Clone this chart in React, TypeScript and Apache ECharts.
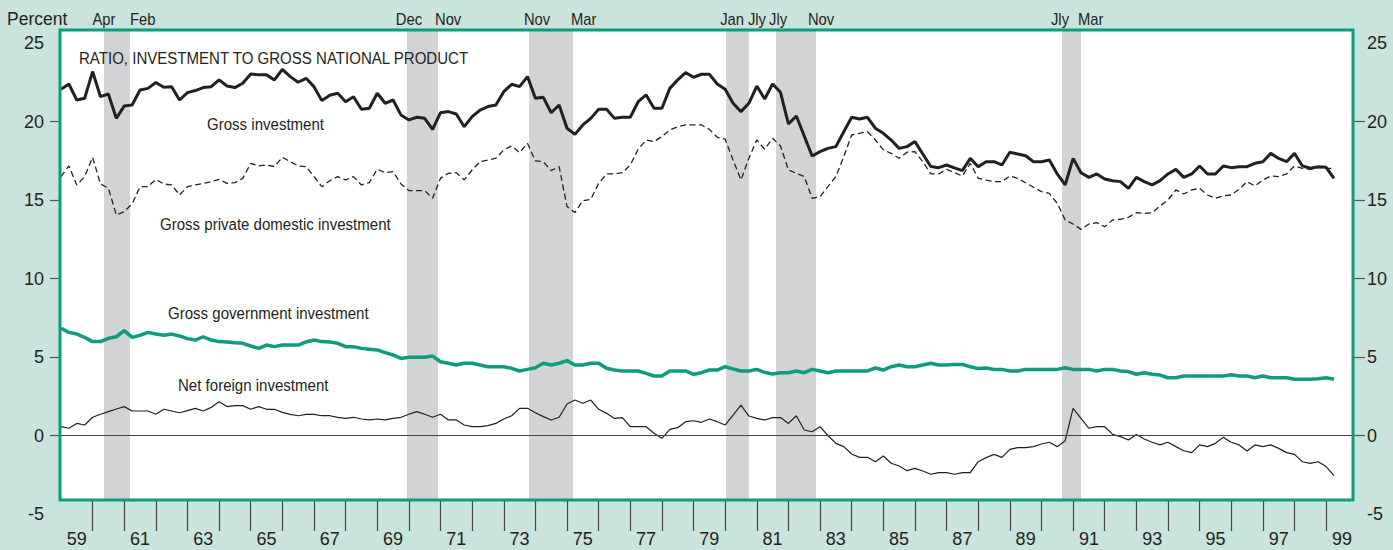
import React, { useEffect, useRef } from "react";
import * as echarts from "echarts";

// Quarterly observations, first point = 1959 Q1
const START_YEAR = 1959;

const grossInvestment = [
  22.05, 22.39, 21.37, 21.48, 23.18, 21.58, 21.75, 20.2, 20.99, 21.05,
  22.01, 22.11, 22.48, 22.18, 22.22, 21.37, 21.84, 21.97, 22.16, 22.22,
  22.65, 22.26, 22.16, 22.44, 23.03, 22.97, 22.97, 22.65, 23.32, 22.86,
  22.5, 22.75, 22.22, 21.33, 21.67, 21.8, 21.26, 21.58, 20.78, 20.84,
  21.8, 21.16, 21.37, 20.42, 20.1, 20.27, 20.2, 19.5, 20.56, 20.63,
  20.48, 19.67, 20.31, 20.73, 20.95, 21.05, 21.9, 22.37,
  22.22, 22.86, 21.48, 21.54, 20.56, 21.05, 19.57, 19.18, 19.78, 20.2,
  20.78, 20.78, 20.2, 20.27, 20.27, 21.26, 21.69, 20.84, 20.84, 22.11,
  22.65, 23.11, 22.82, 23.01, 23.01, 22.39, 22.05, 21.16, 20.63, 21.16,
  22.26, 21.43, 22.39, 21.86, 19.84, 20.35, 19.08, 17.8, 18.08, 18.29,
  18.4, 19.35, 20.27, 20.16, 20.27, 19.57, 19.25, 18.82, 18.29, 18.4,
  18.72, 17.93, 17.13, 17.06, 17.23,
  17.05, 16.87, 17.65, 17.12, 17.44, 17.44, 17.23, 18.04, 17.93, 17.82,
  17.44, 17.44, 17.55, 16.66, 15.96, 17.65, 16.74, 16.44, 16.66, 16.34,
  16.23, 16.17, 15.74, 16.44, 16.17, 15.96, 16.23, 16.66, 16.95, 16.44,
  16.66, 17.17, 16.66, 16.66, 17.17, 17.06, 17.12, 17.12, 17.34, 17.44,
  17.97, 17.65, 17.44, 17.97, 17.17, 17.02, 17.12, 17.08, 16.38,
];

const grossPrivateDomestic = [
  16.49, 17.17, 15.96, 16.49, 17.72, 16.02, 15.75, 14.05, 14.26, 14.75,
  15.85, 15.85, 16.32, 16.02, 15.96, 15.32, 15.85, 15.96, 16.06, 16.17,
  16.32, 16.06, 16.11, 16.38, 17.34, 17.17, 17.23, 17.13, 17.72, 17.44,
  17.17, 17.13, 16.49, 15.85, 16.23, 16.49, 16.28, 16.49, 15.96, 16.11,
  16.96, 16.74, 16.81, 16.02, 15.6, 15.6, 15.6, 15.11, 16.38, 16.7,
  16.74, 16.28, 16.91, 17.44, 17.55, 17.66, 18.19, 18.44,
  18.02, 18.61, 17.49, 17.44, 16.87, 17.13, 14.58, 14.2, 14.96, 15.04,
  16.06, 16.66, 16.66, 16.74, 17.23, 18.23, 18.82, 18.72, 19.04, 19.46,
  19.67, 19.78, 19.78, 19.78, 19.5, 19.0, 18.87, 17.55, 16.28, 17.66,
  18.82, 18.23, 18.93, 18.44, 16.91, 16.7, 16.49, 15.11, 15.21, 15.85,
  16.49, 17.76, 19.14, 19.25, 19.35, 18.82, 18.19, 17.97, 17.66, 18.04,
  18.08, 17.44, 16.66, 16.66, 16.96,
  16.74, 16.53, 17.34, 16.38, 16.27, 16.17, 16.17, 16.53, 16.38, 16.1,
  15.81, 15.53, 15.42, 14.79, 13.73, 13.47, 13.13, 13.47, 13.56, 13.3,
  13.73, 13.77, 13.9, 14.19, 14.15, 14.19, 14.62, 15.0, 15.64, 15.38,
  15.64, 15.74, 15.32, 15.11, 15.26, 15.32, 15.68, 16.17, 15.89, 16.27,
  16.53, 16.49, 16.66, 17.17, 17.02, 16.95, 17.08, 17.02, 17.02,
];

const grossGovernment = [
  6.83, 6.57, 6.46, 6.25, 5.98, 5.98, 6.19, 6.29, 6.68, 6.25,
  6.38, 6.57, 6.46, 6.38, 6.46, 6.34, 6.17, 6.08, 6.29, 6.08,
  5.98, 5.96, 5.91, 5.87, 5.7, 5.55, 5.76, 5.66, 5.76, 5.76,
  5.76, 5.96, 6.08, 5.98, 5.96, 5.87, 5.66, 5.66, 5.55, 5.49,
  5.45, 5.28, 5.13, 4.91, 4.98, 4.98, 4.98, 5.06, 4.7, 4.6,
  4.49, 4.6, 4.6, 4.49, 4.38, 4.38, 4.38, 4.28,
  4.11, 4.21, 4.32, 4.6, 4.49, 4.6, 4.77, 4.49, 4.49, 4.6,
  4.6, 4.28, 4.17, 4.11, 4.11, 4.11, 3.96, 3.79, 3.79, 4.11,
  4.11, 4.11, 3.9, 4.0, 4.17, 4.17, 4.38, 4.24, 4.11, 4.11,
  4.21, 4.02, 3.92, 4.0, 4.0, 4.11, 4.0, 4.21, 4.11, 4.0,
  4.11, 4.11, 4.11, 4.11, 4.11, 4.3, 4.17, 4.38, 4.49, 4.38,
  4.38, 4.49, 4.6, 4.49, 4.49,
  4.53, 4.53, 4.38, 4.26, 4.3, 4.21, 4.21, 4.11, 4.11, 4.21,
  4.21, 4.21, 4.21, 4.21, 4.32, 4.21, 4.21, 4.21, 4.11, 4.21,
  4.21, 4.11, 4.07, 3.9, 4.0, 3.9, 3.85, 3.68, 3.68, 3.79,
  3.79, 3.79, 3.79, 3.79, 3.79, 3.87, 3.79, 3.79, 3.68, 3.79,
  3.68, 3.68, 3.68, 3.58, 3.58, 3.58, 3.62, 3.68, 3.58,
];

const netForeign = [
  0.56, 0.46, 0.77, 0.67, 1.16, 1.35, 1.52, 1.69, 1.84, 1.56,
  1.56, 1.56, 1.35, 1.67, 1.56, 1.45, 1.58, 1.73, 1.56, 1.79,
  2.15, 1.84, 1.9, 1.9, 1.67, 1.84, 1.67, 1.67, 1.47, 1.35,
  1.26, 1.35, 1.35, 1.26, 1.26, 1.16, 1.09, 1.16, 1.05, 0.99,
  1.05, 0.99, 1.09, 1.16, 1.35, 1.52, 1.35, 1.16, 1.35, 0.99,
  0.99, 0.67, 0.56, 0.56, 0.63, 0.77, 1.05, 1.26,
  1.73, 1.73, 1.45, 1.2, 0.99, 1.16, 2.01, 2.26, 2.05, 2.26,
  1.67, 1.41, 1.09, 1.14, 0.56, 0.56, 0.56, 0.14, -0.18, 0.39,
  0.5, 0.88, 0.94, 0.84, 1.05, 0.88, 0.67, 1.3, 1.94, 1.24,
  1.09, 0.99, 1.14, 1.14, 0.77, 1.26,
  0.35, 0.24, 0.56, 0.0, -0.5, -0.71, -1.18, -1.39, -1.39, -1.67,
  -1.31, -1.77, -1.94, -2.24, -2.09, -2.26, -2.47, -2.37, -2.37, -2.47,
  -2.37, -2.37, -1.67, -1.41, -1.2, -1.39,
  -0.88, -0.77, -0.77, -0.71, -0.54, -0.43, -0.71, -0.33, 1.73, 1.09,
  0.46, 0.56, 0.56, 0.07, -0.07, -0.29, 0.07, -0.22, -0.43, -0.6,
  -0.43, -0.71, -0.97, -1.09, -0.6, -0.71, -0.5, -0.12, -0.43, -0.6,
  -0.99, -0.6, -0.71, -0.6, -0.82, -1.09, -1.2, -1.67, -1.77, -1.67,
  -1.98, -2.56,
];

// Recession bands (decimal years) with peak / trough month labels
const recessionStart = [1960.36, 1969.94, 1973.8, 1980.03, 1981.61, 1990.65];
const recessionEnd = [1961.18, 1970.92, 1975.19, 1980.75, 1982.87, 1991.25];
const peakLabels = ["Apr", "Dec", "Nov", "Jan", "Jly", "Jly"];
const troughLabels = ["Feb", "Nov", "Mar", "Jly", "Nov", "Mar"];

const yearTicks = [
  1960, 1961, 1962, 1963, 1964, 1965, 1966, 1967, 1968, 1969, 1970, 1971,
  1972, 1973, 1974, 1975, 1976, 1977, 1978, 1979, 1980, 1981, 1982, 1983,
  1984, 1985, 1986, 1987, 1988, 1989, 1990, 1991, 1992, 1993, 1994, 1995,
  1996, 1997, 1998, 1999,
];
const yearLabels = [
  1959, 1961, 1963, 1965, 1967, 1969, 1971, 1973, 1975, 1977, 1979, 1981,
  1983, 1985, 1987, 1989, 1991, 1993, 1995, 1997, 1999,
];
const yTickValues = [0, 5, 10, 15, 20];

const TITLE = "RATIO, INVESTMENT TO GROSS NATIONAL PRODUCT";
const LABEL_GI = "Gross investment";
const LABEL_GPDI = "Gross private domestic investment";
const LABEL_GOV = "Gross government investment";
const LABEL_NFI = "Net foreign investment";

// small pixel nudges for the month labels (layout only)
const PEAK_DX = [0, 2, 8, 6, 2, -2];
const TROUGH_DX = [0, -3, -2, -1, -8, -3];

const BG = "#c9e4dd";
const TEAL = "#0f9b7e";
const INK = "#231f20";
const BAND = "#d1d3d5";
const FONT = "'Liberation Sans', Arial, Helvetica, sans-serif";

const X_MIN = 1958.97;
const X_MAX = 1999.85;

const toPairs = (arr: number[]) =>
  arr.map((v, i) => [START_YEAR + i / 4, v]);

export default function App() {
  const ref = useRef<HTMLDivElement>(null);

  useEffect(() => {
    if (!ref.current) return;
    const chart = echarts.init(ref.current, null, { renderer: "svg" });

    const yAxisCommon = {
      type: "value",
      min: -5,
      max: 25,
      interval: 5,
      gridIndex: 0,
      axisLine: { show: false },
      splitLine: { show: false },
      axisLabel: {
        color: INK,
        fontSize: 18,
        fontFamily: FONT,
      },
      axisTick: {
        show: true,
        length: 10,
        customValues: yTickValues,
        lineStyle: { color: "#555", width: 1.2 },
      },
    };

    chart.setOption({
      animation: false,
      backgroundColor: BG,
      grid: [
        { left: 60, right: 40, top: 43, bottom: 36 },
        { left: 60, right: 40, top: 30, bottom: 50 },
      ],
      xAxis: [
        {
          type: "value",
          gridIndex: 0,
          min: X_MIN,
          max: X_MAX,
          show: false,
        },
        {
          type: "value",
          gridIndex: 1,
          min: X_MIN,
          max: X_MAX,
          axisLine: { show: false },
          splitLine: { show: false },
          axisTick: {
            show: true,
            length: 31,
            customValues: yearTicks,
            lineStyle: { color: "#444", width: 1.2 },
          },
          axisLabel: {
            customValues: yearLabels.map((y) => y + 0.5),
            formatter: (v: number) => String(Math.floor(v)).slice(2),
            color: INK,
            fontSize: 18,
            fontFamily: FONT,
            margin: 30,
          },
        },
      ],
      yAxis: [
        {
          ...yAxisCommon,
          position: "left",
          axisLabel: { ...yAxisCommon.axisLabel, margin: 16 },
        },
        {
          ...yAxisCommon,
          position: "right",
          axisTick: { ...yAxisCommon.axisTick, length: 12 },
          axisLabel: { ...yAxisCommon.axisLabel, margin: 14 },
        },
        {
          type: "value",
          gridIndex: 1,
          min: 0,
          max: 1,
          show: false,
        },
      ],
      series: [
        {
          type: "custom",
          name: "recessions",
          xAxisIndex: 1,
          yAxisIndex: 2,
          z: 1,
          silent: true,
          data: recessionStart.map((s, i) => [s, recessionEnd[i]]),
          encode: { x: [0, 1] },
          renderItem: (params: any, api: any) => {
            const a = api.coord([api.value(0), 1]);
            const b = api.coord([api.value(1), 0]);
            return {
              type: "rect",
              shape: { x: a[0], y: a[1], width: b[0] - a[0], height: b[1] - a[1] },
              style: { fill: BAND },
            };
          },
        },
        {
          type: "line",
          name: LABEL_GPDI,
          xAxisIndex: 0,
          yAxisIndex: 0,
          z: 3,
          data: toPairs(grossPrivateDomestic),
          showSymbol: false,
          symbol: "none",
          lineStyle: { color: INK, width: 1.3, type: [6, 3.5] },
        },
        {
          type: "line",
          name: LABEL_GI,
          xAxisIndex: 0,
          yAxisIndex: 0,
          z: 4,
          data: toPairs(grossInvestment),
          showSymbol: false,
          symbol: "none",
          lineStyle: { color: INK, width: 3 },
        },
        {
          type: "line",
          name: LABEL_GOV,
          xAxisIndex: 0,
          yAxisIndex: 0,
          z: 4,
          data: toPairs(grossGovernment),
          showSymbol: false,
          symbol: "none",
          lineStyle: { color: TEAL, width: 3.5 },
        },
        {
          type: "line",
          name: LABEL_NFI,
          xAxisIndex: 0,
          yAxisIndex: 0,
          z: 3,
          data: toPairs(netForeign),
          showSymbol: false,
          symbol: "none",
          lineStyle: { color: INK, width: 1.2 },
          markLine: {
            silent: true,
            symbol: "none",
            label: { show: false },
            lineStyle: { color: "#444", width: 1.2, type: "solid" },
            data: [{ yAxis: 0 }],
          },
        },
      ],
    });

    // plot box from grid 1 extents
    const tl = chart.convertToPixel({ xAxisIndex: 1, yAxisIndex: 2 }, [X_MIN, 1]) as number[];
    const br = chart.convertToPixel({ xAxisIndex: 1, yAxisIndex: 2 }, [X_MAX, 0]) as number[];

    const txt = (
      id: string,
      text: string,
      x: number,
      y: number,
      align: string,
      scaleX: number,
      size = 17
    ) => ({
      type: "text",
      id,
      x,
      y,
      scaleX,
      z: 100,
      silent: true,
      style: {
        text,
        x: 0,
        y: 0,
        fill: INK,
        font: `${size}px ${FONT}`,
        textAlign: align,
        textVerticalAlign: "middle",
      },
    });

    const graphics: any[] = [
      {
        type: "rect",
        id: "box-fill",
        z: 0,
        silent: true,
        shape: { x: tl[0], y: tl[1], width: br[0] - tl[0], height: br[1] - tl[1] },
        style: { fill: "#ffffff" },
      },
      {
        type: "rect",
        id: "box-border",
        z: 90,
        silent: true,
        shape: { x: tl[0], y: tl[1], width: br[0] - tl[0], height: br[1] - tl[1] },
        style: { fill: "none", stroke: TEAL, lineWidth: 3 },
      },
      txt("percent", "Percent", 7, 19, "left", 1, 17.5),
      txt("title", TITLE, 79, 58, "left", 0.885),
      txt("gi", LABEL_GI, 207, 124, "left", 0.885),
      txt("gpdi", LABEL_GPDI, 160, 224, "left", 0.885),
      txt("gov", LABEL_GOV, 168, 313, "left", 0.885),
      txt("nfi", LABEL_NFI, 178, 385, "left", 0.885),
    ];

    recessionStart.forEach((s, i) => {
      const ps = chart.convertToPixel({ xAxisIndex: 1 }, s) as number;
      const pe = chart.convertToPixel({ xAxisIndex: 1 }, recessionEnd[i]) as number;
      graphics.push(txt(`peak${i}`, peakLabels[i], ps + PEAK_DX[i], 19, "center", 0.87));
      graphics.push(txt(`trough${i}`, troughLabels[i], pe + TROUGH_DX[i], 19, "left", 0.87));
    });

    chart.setOption({ graphic: graphics });

    return () => chart.dispose();
  }, []);

  return (
    <div
      ref={ref}
      style={{ position: "absolute", left: 0, top: 0, width: 1393, height: 550 }}
    />
  );
}
